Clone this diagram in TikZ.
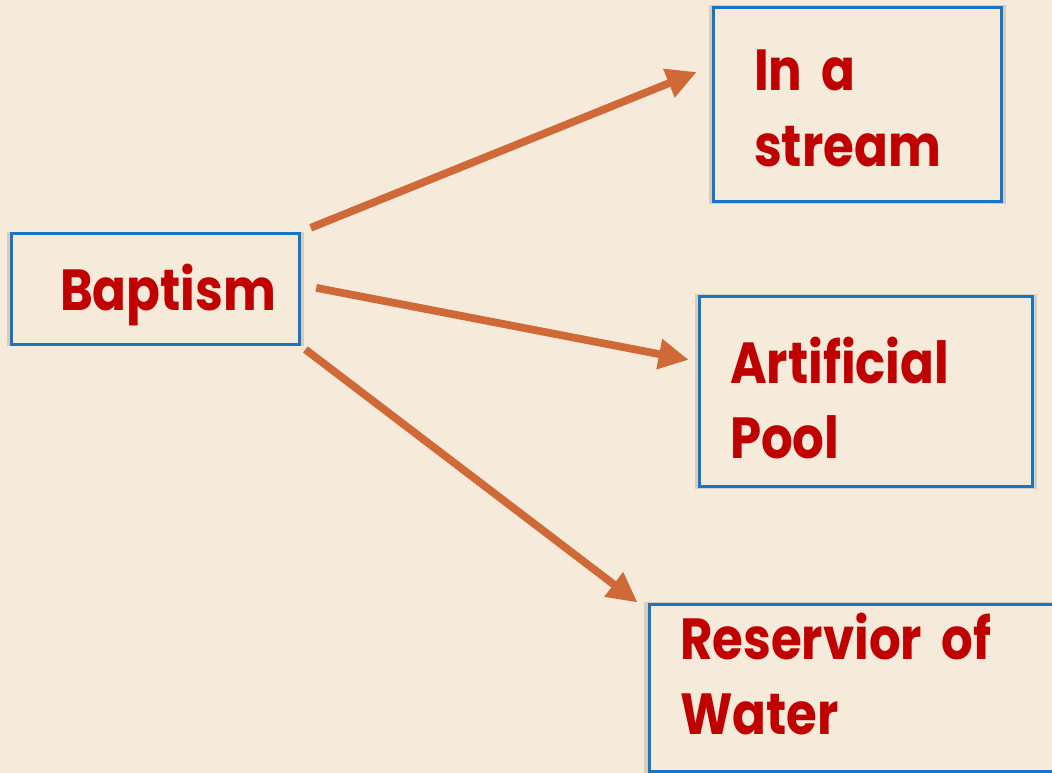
\documentclass[tikz,border=0pt]{standalone}
\usepackage{fontspec}
\newfontfamily\boxfont{Poppins}[FakeStretch=0.86, WordSpace=0.8]
\usetikzlibrary{arrows.meta,shadows}
\definecolor{paper}{HTML}{F6EBDA}
\definecolor{boxline}{HTML}{1874C6}
\definecolor{arrowc}{HTML}{CF6A38}
\definecolor{wordc}{HTML}{C00000}
\tikzset{
  item/.style={draw=boxline, line width=0.06cm, fill=paper, align=left, text=wordc, inner ysep=0pt,
    font=\boxfont\bfseries\fontsize{33}{42.7}\selectfont,
    general shadow={fill=black!50!paper, opacity=0.25, shadow scale=1.025}},
  link/.style={draw=arrowc, line width=0.155cm, -{Triangle[length=0.6cm, width=0.58cm]}}
}
\begin{document}
\begin{tikzpicture}[x=0.02cm, y=-0.02cm]
\fill[paper] (0,0) rectangle (1052,773);
\useasboundingbox (0,0) rectangle (1052,773);
\node[item, text width=3.82cm, inner xsep=0.98cm, text height=1.56cm, text depth=0.68cm] (baptism) at (155.5,289) {Baptism};
\node[item, text width=4.14cm, inner xsep=0.82cm, text height=1.68cm, text depth=2.22cm] (stream) at (857.5,104.5) {In a\\stream};
\node[item, text width=5.44cm, inner xsep=0.62cm, text height=1.74cm, text depth=2.08cm] (pool) at (866,391.5) {Artificial\\Pool};
\node[item, text width=7.38cm, inner xsep=0.62cm, text height=1.1cm, text depth=2.26cm] (reservoir) at (864.5,688) {Reservior of\\Water};
\draw[link, shorten <=0.2cm, shorten >=0.32cm] (baptism.north east) -- ([yshift=0.77cm]stream.west);
\draw[link, shorten <=0.3cm, shorten >=0.18cm] ([yshift=0.08cm]baptism.east) -- ([yshift=0.6cm]pool.west);
\draw[link, shorten <=0.1cm] (baptism.south east) -- ([xshift=-0.2cm]reservoir.north west);
\end{tikzpicture}
\end{document}
